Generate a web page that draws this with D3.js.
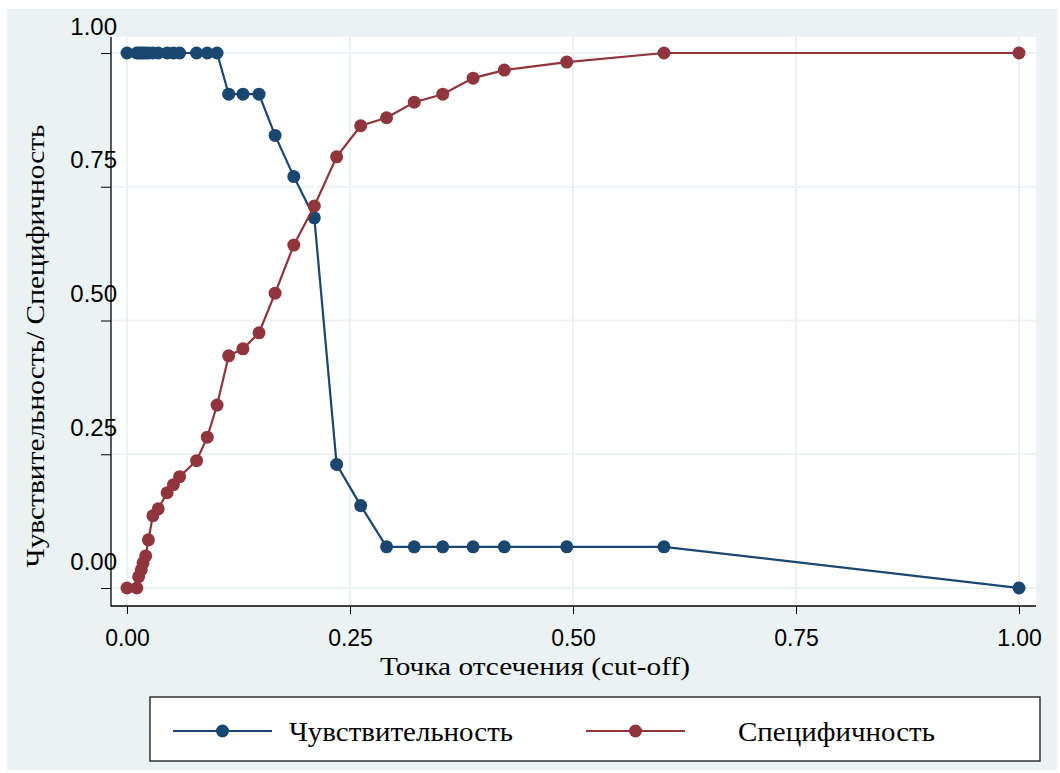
<!DOCTYPE html>
<html>
<head>
<meta charset="utf-8">
<script src="https://cdn.jsdelivr.net/npm/d3@7"></script>
<style>
  body { margin: 0; background: #fff; }
</style>
</head>
<body>
<div id="chart"></div>
<script>
// cut-off points (shared by both series)
const cutoffs = [0, 0.011, 0.013, 0.016, 0.018, 0.021, 0.024, 0.029, 0.035, 0.045,
  0.052, 0.059, 0.078, 0.090, 0.101, 0.114, 0.130, 0.148, 0.166, 0.187,
  0.210, 0.235, 0.262, 0.291, 0.322, 0.354, 0.388, 0.423, 0.493, 0.602, 1.0]

const sensitivity = [1, 1, 1, 1, 1, 1, 1, 1, 1, 1,
  1, 1, 1, 1, 1, 0.923, 0.923, 0.923, 0.846, 0.769,
  0.692, 0.231, 0.154, 0.077, 0.077, 0.077, 0.077, 0.077, 0.077, 0.077, 0]

const specificity = [0, 0, 0.021, 0.034, 0.047, 0.060, 0.090, 0.135, 0.148, 0.178,
  0.193, 0.208, 0.238, 0.282, 0.342, 0.434, 0.447, 0.477, 0.551, 0.641,
  0.714, 0.806, 0.864, 0.879, 0.908, 0.923, 0.953, 0.968, 0.983, 1.0, 1.0]

const ticks = [0, 0.25, 0.5, 0.75, 1]
const seriesNames = ['Чувствительность', 'Специфичность']
const colors = ['#1a476f', '#90353b']

const width = 1060
const height = 773
const bg = '#eaf2f3'
const plot = { left: 111, right: 1036, top: 37, bottom: 606 }

const svg = d3.select('#chart')
  .append('svg')
  .attr('width', width)
  .attr('height', height)

// graph region
svg.append('rect')
  .attr('x', 7).attr('y', 9)
  .attr('width', 1050).attr('height', 761)
  .attr('fill', bg)

// plot region
svg.append('rect')
  .attr('x', plot.left).attr('y', plot.top)
  .attr('width', plot.right - plot.left).attr('height', plot.bottom - plot.top)
  .attr('fill', '#fff')

const x = d3.scaleLinear().domain([0, 1]).range([127, 1019])
const y = d3.scaleLinear().domain([0, 1]).range([588, 53])

// grid
const grid = svg.append('g')
  .attr('stroke', bg)
  .attr('stroke-width', 2)
grid.selectAll('.gx').data(ticks).join('line')
  .attr('x1', d => x(d)).attr('x2', d => x(d))
  .attr('y1', plot.top).attr('y2', plot.bottom)
grid.selectAll('.gy').data(ticks).join('line')
  .attr('x1', plot.left).attr('x2', plot.right)
  .attr('y1', d => y(d)).attr('y2', d => y(d))

// axes
const yAxis = svg.append('g')
  .attr('transform', `translate(${plot.left},0)`)
  .call(d3.axisLeft(y).tickValues(ticks).tickFormat(d3.format('.2f')).tickSize(10))
yAxis.select('.domain').remove()
yAxis.selectAll('.tick line').attr('stroke', '#000')
yAxis.selectAll('.tick text')
  .attr('x', 6).attr('y', -19).attr('dy', null)
  .attr('fill', '#000')
  .attr('font-family', 'Liberation Sans, Arial, sans-serif')
  .attr('font-size', 24)

const xAxis = svg.append('g')
  .attr('transform', `translate(0,${plot.bottom})`)
  .call(d3.axisBottom(x).tickValues(ticks).tickFormat(d3.format('.2f')).tickSize(8))
xAxis.select('.domain').remove()
xAxis.selectAll('.tick line').attr('stroke', '#000')
xAxis.selectAll('.tick text')
  .attr('y', 40).attr('dy', null)
  .attr('fill', '#000')
  .attr('font-family', 'Liberation Sans, Arial, sans-serif')
  .attr('font-size', 23)

svg.append('line')
  .attr('x1', plot.left).attr('x2', plot.left)
  .attr('y1', plot.top).attr('y2', plot.bottom + 0.5)
  .attr('stroke', '#000').attr('stroke-width', 1.3)
svg.append('line')
  .attr('x1', plot.left).attr('x2', plot.right)
  .attr('y1', plot.bottom).attr('y2', plot.bottom)
  .attr('stroke', '#000').attr('stroke-width', 1.3)

// series
const seriesData = [sensitivity, specificity]
const line = d3.line()
  .x((d, i) => x(cutoffs[i]))
  .y(d => y(d))

seriesData.forEach((vals, s) => {
  svg.append('path')
    .datum(vals)
    .attr('fill', 'none')
    .attr('stroke', colors[s])
    .attr('stroke-width', 2.2)
    .attr('d', line)
  svg.append('g')
    .selectAll('circle')
    .data(vals)
    .join('circle')
      .attr('cx', (d, i) => x(cutoffs[i]))
      .attr('cy', d => y(d))
      .attr('r', 6.5)
      .attr('fill', colors[s])
})

// titles
svg.append('text')
  .attr('x', 535).attr('y', 675)
  .attr('text-anchor', 'middle')
  .attr('font-family', 'Liberation Serif, Times New Roman, serif')
  .attr('font-size', 25)
  .attr('textLength', 310).attr('lengthAdjust', 'spacingAndGlyphs')
  .text('Точка отсечения (cut-off)')

svg.append('text')
  .attr('transform', 'translate(44,346) rotate(-90)')
  .attr('text-anchor', 'middle')
  .attr('font-family', 'Liberation Serif, Times New Roman, serif')
  .attr('font-size', 26)
  .attr('textLength', 443).attr('lengthAdjust', 'spacingAndGlyphs')
  .text('Чувствительность/ Специфичность')

// legend
svg.append('rect')
  .attr('x', 150).attr('y', 697)
  .attr('width', 890).attr('height', 64)
  .attr('fill', '#fff')
  .attr('stroke', '#333').attr('stroke-width', 1.5)

const legendItems = [
  { lx1: 173, lx2: 272, tx: 289, tw: 224 },
  { lx1: 586, lx2: 685, tx: 738, tw: 197 }
]
legendItems.forEach((it, s) => {
  svg.append('line')
    .attr('x1', it.lx1).attr('x2', it.lx2)
    .attr('y1', 731).attr('y2', 731)
    .attr('stroke', colors[s]).attr('stroke-width', 2.2)
  svg.append('circle')
    .attr('cx', (it.lx1 + it.lx2) / 2).attr('cy', 731)
    .attr('r', 6.5).attr('fill', colors[s])
  svg.append('text')
    .attr('x', it.tx).attr('y', 741)
    .attr('font-family', 'Liberation Serif, Times New Roman, serif')
    .attr('font-size', 27)
    .attr('textLength', it.tw).attr('lengthAdjust', 'spacingAndGlyphs')
    .text(seriesNames[s])
})
</script>
</body>
</html>
